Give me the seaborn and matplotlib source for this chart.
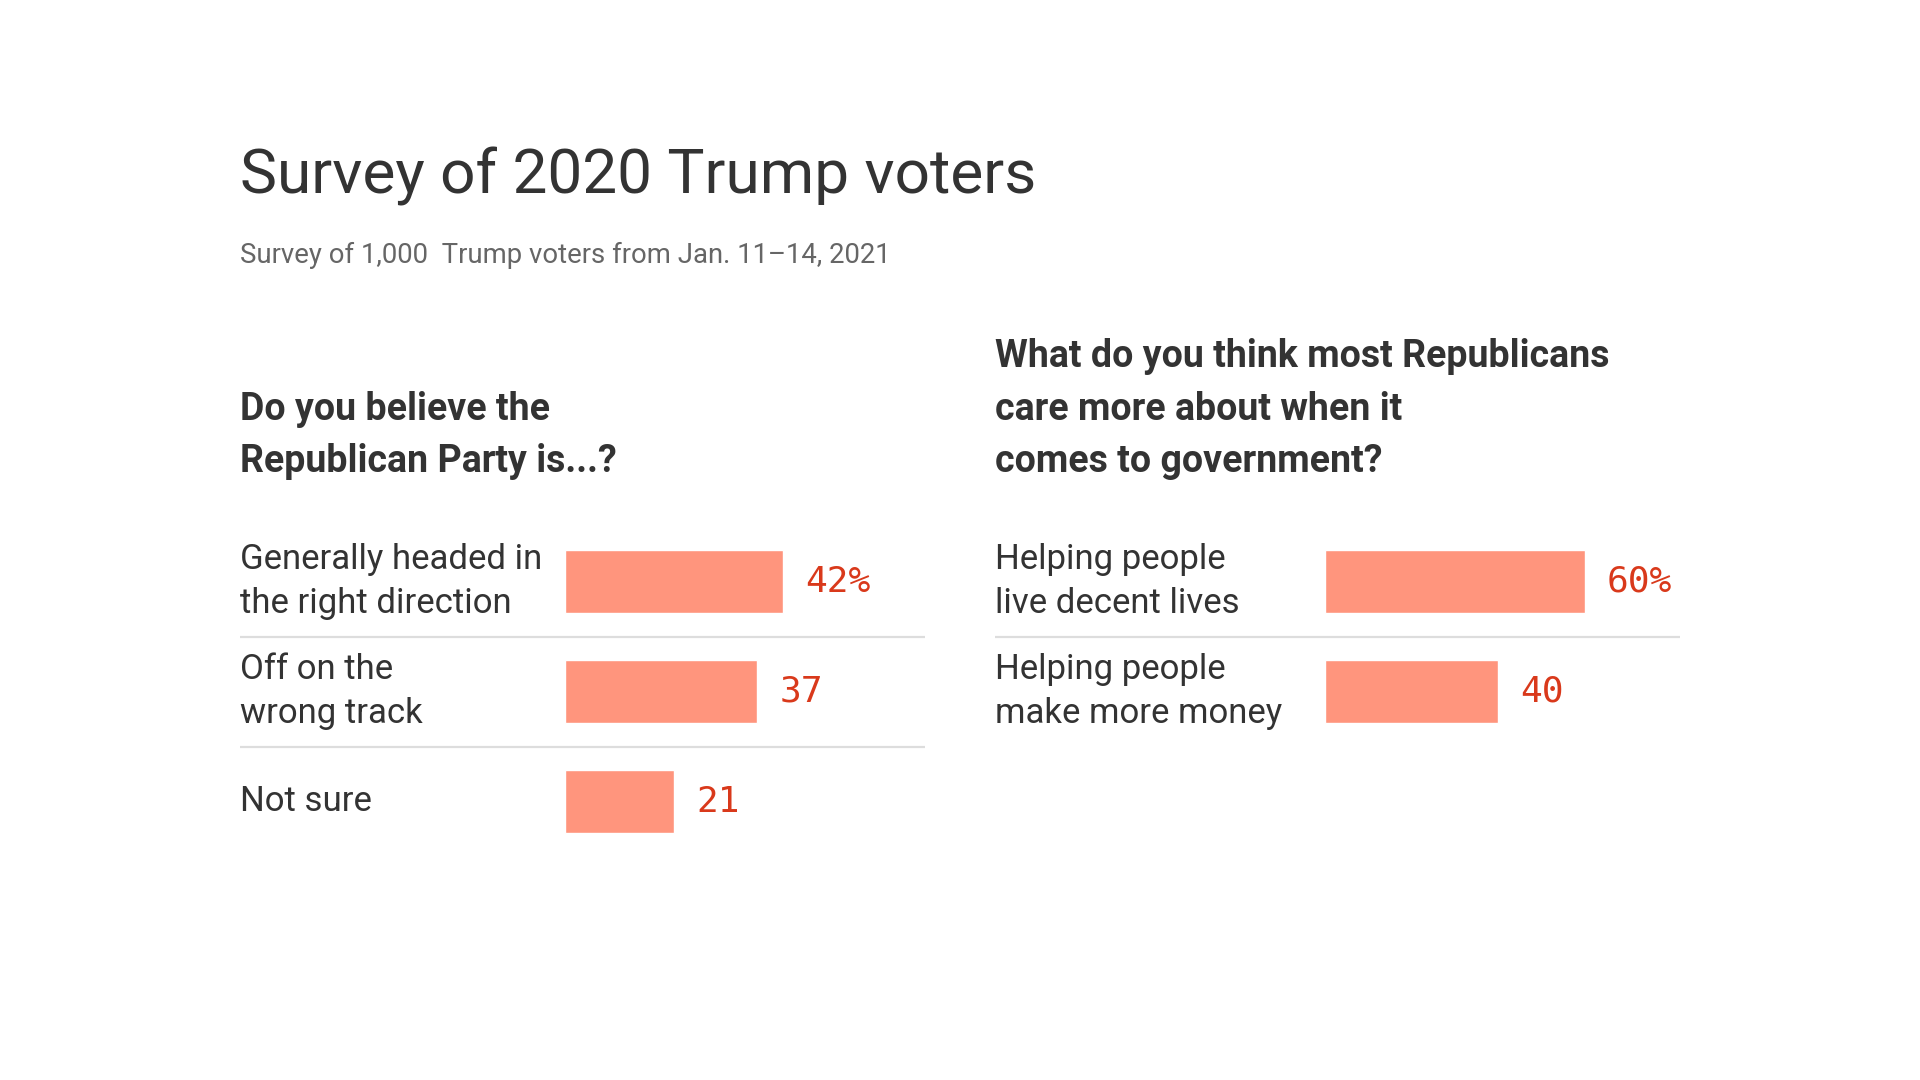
import matplotlib
matplotlib.use("Agg")
import matplotlib.pyplot as plt
import seaborn as sns
import pandas as pd

# ---- data ----
left_labels = ["Generally headed in\nthe right direction", "Off on the\nwrong track", "Not sure"]
left_values = [42, 37, 21]
left_value_text = ["42%", "37", "21"]

right_labels = ["Helping people\nlive decent lives", "Helping people\nmake more money"]
right_values = [60, 40]
right_value_text = ["60%", "40"]

title = "Survey of 2020 Trump voters"
subtitle = "Survey of 1,000  Trump voters from Jan. 11\u201314, 2021"
left_question = "Do you believe the\nRepublican Party is...?"
right_question = "What do you think most Republicans\ncare more about when it\ncomes to government?"

# ---- style ----
sns.set_theme(style="white")
plt.rcParams['font.family'] = ['Roboto', 'DejaVu Sans']

BAR = "#FF957D"
VAL = "#D9391B"
DARK = "#333333"
GREY = "#666666"
SEP = "#DDDDDD"

W, H = 1920, 1080
fig = plt.figure(figsize=(19.2, 10.8), dpi=100)
fig.patch.set_facecolor("white")

def fx(px):
    return px / W

def fy(py):
    return 1 - py / H

fig.text(fx(240), fy(194), title, fontsize=44.7, color=DARK, va="baseline", ha="left")
fig.text(fx(240), fy(263), subtitle, fontsize=19.8, color=GREY, va="baseline", ha="left")

fig.text(fx(240), fy(472.5), left_question, fontsize=27, fontweight="bold", color=DARK,
         va="baseline", ha="left", linespacing=1.55)
fig.text(fx(995), fy(472.5), right_question, fontsize=27, fontweight="bold", color=DARK,
         va="baseline", ha="left", linespacing=1.55)


def panel(x0, x1, zero_px, px_per_unit, labels, values, texts):
    top, bottom = 526.5, 856.5
    ax = fig.add_axes([fx(x0), fy(bottom), fx(x1 - x0), (bottom - top) / H])
    df = pd.DataFrame({"label": labels, "value": values})
    sns.barplot(data=df, x="value", y="label", ax=ax, color=BAR, saturation=1,
                width=0.575, orient="h", order=labels)
    xmin = -(zero_px - x0) / px_per_unit
    xmax = (x1 - zero_px) / px_per_unit
    ax.set_xlim(xmin, xmax)
    ax.set_ylim(2.5, -0.5)
    for s in ax.spines.values():
        s.set_visible(False)
    ax.set_xticks([])
    ax.set_yticks([])
    ax.set_xlabel("")
    ax.set_ylabel("")
    ax.set_facecolor("none")
    for i, lab in enumerate(labels):
        ax.text(xmin, i, lab, fontsize=25, color=DARK, va="center", ha="left",
                linespacing=1.42)
    for i in range(len(labels) - 1):
        ax.axhline(i + 0.5, color=SEP, lw=1.6)
    ax.bar_label(ax.containers[0], labels=texts, padding=16, fontsize=26,
                 color=VAL, family="DejaVu Sans Mono")
    return ax

panel(240, 925, 565, 5.19, left_labels, left_values, left_value_text)
panel(995, 1680, 1325, 4.33, right_labels, right_values, right_value_text)

fig.savefig("out.png", dpi=100, facecolor="white")
